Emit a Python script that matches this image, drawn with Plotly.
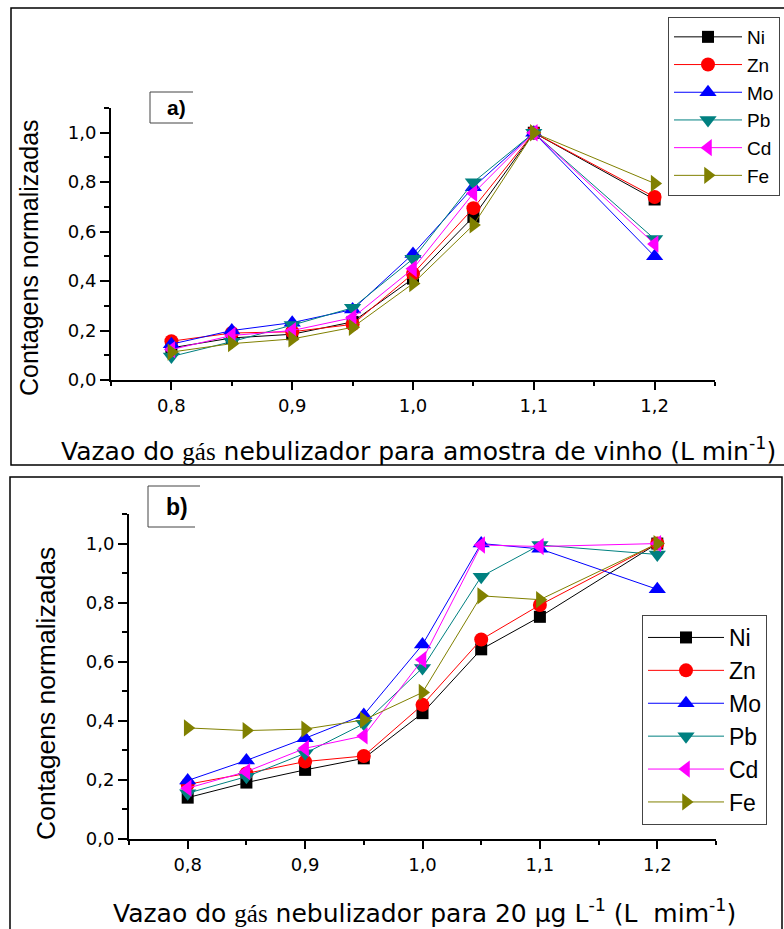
import plotly.graph_objects as go

W, H = 784, 929

flow = [0.80, 0.85, 0.90, 0.95, 1.00, 1.05, 1.10, 1.20]
elements = ["Ni", "Zn", "Mo", "Pb", "Cd", "Fe"]

# Panel a) wine sample
a_Ni = [0.13, 0.17, 0.185, 0.235, 0.41, 0.66, 1.00, 0.73]
a_Zn = [0.157, 0.19, 0.195, 0.225, 0.43, 0.695, 1.00, 0.74]
a_Mo = [0.145, 0.20, 0.232, 0.285, 0.51, 0.78, 1.00, 0.50]
a_Pb = [0.095, 0.155, 0.222, 0.292, 0.49, 0.80, 1.00, 0.57]
a_Cd = [0.123, 0.18, 0.20, 0.252, 0.45, 0.755, 1.00, 0.55]
a_Fe = [0.113, 0.147, 0.166, 0.213, 0.39, 0.627, 1.00, 0.795]

# Panel b) 20 ug/L standard
b_Ni = [0.14, 0.191, 0.234, 0.273, 0.426, 0.642, 0.752, 1.00]
b_Zn = [0.185, 0.222, 0.262, 0.281, 0.454, 0.675, 0.792, 1.00]
b_Mo = [0.198, 0.266, 0.341, 0.42, 0.658, 1.00, 0.982, 0.845]
b_Pb = [0.155, 0.211, 0.29, 0.39, 0.579, 0.888, 0.995, 0.963]
b_Cd = [0.172, 0.228, 0.307, 0.349, 0.607, 0.995, 0.99, 1.00]
b_Fe = [0.376, 0.367, 0.372, 0.403, 0.496, 0.823, 0.81, 1.00]

colors = {"Ni": "#000000", "Zn": "#FF0000", "Mo": "#0000FF",
          "Pb": "#008080", "Cd": "#FF00FF", "Fe": "#808000"}
symbols = {"Ni": "square", "Zn": "circle", "Mo": "triangle-up",
           "Pb": "triangle-down", "Cd": "triangle-left", "Fe": "triangle-right"}
msize = {"Ni": 12, "Zn": 14, "Mo": 15, "Pb": 15, "Cd": 15, "Fe": 15}

data_a = dict(zip(elements, [a_Ni, a_Zn, a_Mo, a_Pb, a_Cd, a_Fe]))
data_b = dict(zip(elements, [b_Ni, b_Zn, b_Mo, b_Pb, b_Cd, b_Fe]))


def px(x):
    return x / W


def py(y):
    return 1 - y / H


fig = go.Figure()
for el in elements:
    fig.add_trace(go.Scatter(
        x=flow, y=data_a[el], name=el, mode="lines+markers",
        line=dict(color=colors[el], width=1),
        marker=dict(symbol=symbols[el], size=msize[el], color=colors[el]),
        xaxis="x", yaxis="y", legend="legend"))
for el in elements:
    fig.add_trace(go.Scatter(
        x=flow, y=data_b[el], name=el, mode="lines+markers",
        line=dict(color=colors[el], width=1),
        marker=dict(symbol=symbols[el], size=msize[el], color=colors[el]),
        xaxis="x2", yaxis="y2", legend="legend2"))

tickfont = dict(family="DejaVu Sans", size=18, color="black")


def xax(dom):
    return dict(domain=dom, range=[0.75, 1.25], showline=True, linecolor="black",
                linewidth=2, ticks="outside", ticklen=8, tickwidth=2, tickcolor="black",
                tick0=0.8, dtick=0.1, tickformat=".1f", showgrid=False, zeroline=False,
                tickfont=tickfont,
                minor=dict(ticks="outside", ticklen=4, tickwidth=2, tickcolor="black",
                           tick0=0.75, dtick=0.05, showgrid=False))


def yax(dom):
    return dict(domain=dom, range=[0, 1.1], showline=True, linecolor="black",
                linewidth=2, ticks="outside", ticklen=9, tickwidth=2, tickcolor="black",
                tick0=0, dtick=0.2, tickformat=".1f", showgrid=False, zeroline=False,
                tickfont=tickfont,
                minor=dict(ticks="outside", ticklen=5, tickwidth=2, tickcolor="black",
                           tick0=0, dtick=0.1, showgrid=False))


legfont = dict(family="Liberation Sans, Arial", size=19, color="black")
ytitlefont = dict(family="Liberation Sans, Arial", size=25, color="black")
xtitlefont = dict(family="DejaVu Sans", size=25, color="black")
serif = "<span style=\"font-family:'Liberation Serif'\">gás</span>"

annotations = [
    dict(text="<b>a)</b>", x=px(176), y=py(108), xref="paper", yref="paper",
         xanchor="center", yanchor="middle", showarrow=False,
         font=dict(family="Liberation Sans, Arial", size=21, color="black")),
    dict(text="<b>b)</b>", x=px(177), y=py(507), xref="paper", yref="paper",
         xanchor="center", yanchor="middle", showarrow=False,
         font=dict(family="Liberation Sans, Arial", size=23, color="black")),
    dict(text="Contagens normalizadas", x=px(29), y=py(258), xref="paper", yref="paper",
         xanchor="center", yanchor="middle", textangle=-90, showarrow=False, font=ytitlefont),
    dict(text="Contagens normalizadas", x=px(46), y=py(694), xref="paper", yref="paper",
         xanchor="center", yanchor="middle", textangle=-90, showarrow=False,
         font=dict(ytitlefont, size=26.5)),
    dict(text="Vazao do " + serif + " nebulizador para amostra de vinho (L min<sup>-1</sup>)",
         x=px(418), y=py(449), xref="paper", yref="paper", xanchor="center", yanchor="middle",
         showarrow=False, font=xtitlefont),
    dict(text="Vazao do " + serif + " nebulizador para 20 µg L<sup>-1</sup> (L\u00a0 mim<sup>-1</sup>)",
         x=px(424), y=py(911), xref="paper", yref="paper", xanchor="center", yanchor="middle",
         showarrow=False, font=xtitlefont),
]

shapes = [
    dict(type="rect", xref="paper", yref="paper", x0=px(11), x1=px(792), y0=py(465), y1=py(8),
         line=dict(color="black", width=1.5)),
    dict(type="rect", xref="paper", yref="paper", x0=px(10), x1=px(782), y0=py(935), y1=py(477),
         line=dict(color="black", width=1.5)),
    dict(type="path", xref="paper", yref="paper",
         path=f"M {px(193)},{py(92)} L {px(150)},{py(92)} L {px(150)},{py(123)} L {px(193)},{py(123)}",
         line=dict(color="#444", width=1)),
    dict(type="path", xref="paper", yref="paper",
         path=f"M {px(200)},{py(486)} L {px(148)},{py(486)} L {px(148)},{py(527)} L {px(195)},{py(527)}",
         line=dict(color="#444", width=1)),
]

fig.update_layout(
    width=W, height=H, margin=dict(l=0, r=0, t=0, b=0, autoexpand=False),
    paper_bgcolor="white", plot_bgcolor="white", separators=",.",
    xaxis=dict(xax([px(111), px(715)]), anchor="y"),
    yaxis=dict(yax([py(380), py(108)]), anchor="x"),
    xaxis2=dict(xax([px(129), px(716)]), anchor="y2"),
    yaxis2=dict(yax([py(839), py(514)]), anchor="x2"),
    legend=dict(x=px(668), y=py(17), xanchor="left", yanchor="top", font=legfont,
                bordercolor="#444", borderwidth=1, bgcolor="white", itemwidth=68),
    legend2=dict(x=px(642), y=py(615), xanchor="left", yanchor="top",
                 font=dict(legfont, size=23),
                 bordercolor="#444", borderwidth=1, bgcolor="white", itemwidth=76),
    annotations=annotations, shapes=shapes, showlegend=True,
)

fig.write_html("out.html")
